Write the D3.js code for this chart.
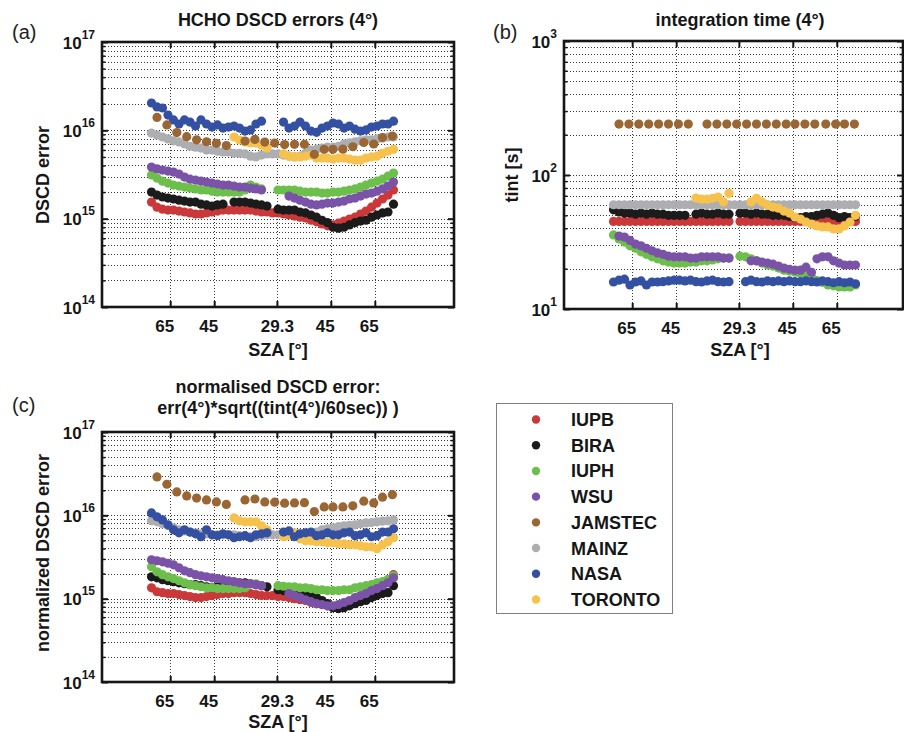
<!DOCTYPE html>
<html>
<head>
<meta charset="utf-8">
<script src="https://cdn.jsdelivr.net/npm/d3@7"></script>
<style>
  body { margin: 0; background: #fff; }
  text { font-family: 'Liberation Sans', Arial, Helvetica, sans-serif; }
</style>
</head>
<body>
<svg id="chart" width="904" height="732"></svg>
<script>
// ---------------- DATA ----------------
// measurement times (hours); the SZA axis is drawn at these times
const times = [7.25,7.5,7.75,8,8.25,8.5,8.75,9,9.25,9.5,9.75,10,10.25,10.5,10.75,11,11.25,11.5,11.75,12,12.25,12.5,12.75,13,13.25,13.5,13.75,14,14.25,14.5,14.75,15,15.25,15.5,15.75,16,16.25,16.5,16.75,17,17.25,17.5,17.75,18,18.25];
const jamTimes = [7.5,7.95,8.4,8.85,9.3,9.75,10.2,10.65,11.5,11.95,12.4,12.85,13.3,13.75,14.2,14.65,15.1,15.5,15.95,16.4,16.9,17.35,17.75,18.2];

const szaTickTimes = [8.1, 10.1, 12.95, 15.4, 17.4];
const szaTickLabels = ["65", "45", "29.3", "45", "65"];

const groups = ["IUPB", "BIRA", "IUPH", "WSU", "JAMSTEC", "MAINZ", "NASA", "TORONTO"];
const groupColors = ["#cb383a", "#1b1b1b", "#6dbf4b", "#7a53a8", "#9a6634", "#adaeb2", "#3350a2", "#f6c24d"];

// (a) HCHO DSCD errors (4°), units of 1e15 molec/cm2
const errIUPB = [1.54,1.35,1.28,1.25,1.25,1.22,1.19,1.16,1.13,1.13,1.16,1.19,1.22,1.25,1.25,1.25,1.25,1.25,1.25,1.22,1.19,1.19,1.16,1.16,1.13,1.1,1.07,1.04,1.02,0.96,0.92,0.87,0.83,0.85,0.89,0.94,0.99,1.04,1.13,1.22,1.35,1.5,1.67,1.85,2.11];
const errBIRA = [2.0,1.85,1.76,1.71,1.67,1.62,1.58,1.54,1.54,1.46,1.43,1.39,1.43,1.46,null,1.54,1.54,1.54,1.5,1.46,1.43,1.39,null,1.28,1.25,1.25,1.25,1.19,1.16,1.1,1.04,0.96,0.9,0.8,0.78,0.8,0.85,0.9,0.94,0.96,1.04,1.1,1.16,1.19,1.46];
const errIUPH = [3.12,2.88,2.66,2.53,2.4,2.34,2.28,2.22,2.17,2.11,2.11,2.05,2.0,2.0,2.0,2.0,2.0,2.11,2.4,2.28,2.17,null,null,2.11,2.11,2.11,2.11,2.05,2.0,2.0,2.0,1.95,1.95,2.0,2.0,2.05,2.11,2.17,2.28,2.4,2.53,2.66,2.8,3.03,3.28];
const errWSU = [3.84,3.66,3.55,3.46,3.37,3.2,2.96,2.8,2.74,2.66,2.6,2.53,2.47,2.4,2.4,2.34,2.28,2.28,2.22,2.17,2.11,null,null,null,null,1.8,1.71,1.62,1.54,1.46,1.43,1.46,1.5,1.5,1.54,1.58,1.67,1.71,1.8,1.9,1.95,2.05,2.17,2.34,2.6];
const errJAMSTEC = [14.0,11.5,9.44,8.47,7.8,7.43,7.12,6.73,7.55,7.9,7.37,7.17,6.9,6.95,6.95,5.35,6.1,6.1,6.12,6.52,7.28,7.0,8.28,8.6];
const errMAINZ = [9.3,8.85,8.4,8.0,7.6,7.4,7.0,6.6,6.45,6.3,5.98,5.98,5.8,5.7,5.7,5.5,5.5,5.4,5.1,5.0,5.25,5.4,5.4,5.4,5.25,5.1,5.0,5.1,5.5,5.98,6.1,6.3,6.45,6.45,6.6,7.0,7.2,7.4,7.6,7.8,7.8,8.0,8.2,8.4,8.4];
const errNASA = [20.4,18.4,17.9,14.9,13.1,11.8,13.1,12.4,11.2,13.1,11.8,10.9,11.5,10.6,10.9,11.2,10.6,9.8,10.1,11.8,12.7,null,null,null,12.4,10.6,11.2,12.4,11.2,9.8,9.5,10.6,11.2,12.1,11.8,10.6,11.2,10.3,9.8,10.1,10.9,11.2,11.8,11.8,12.7];
const errTORONTO = [null,null,null,null,null,null,null,null,null,null,null,null,null,null,null,8.4,7.77,7.4,7.2,7.2,6.8,6.3,null,null,5.4,5.1,5.0,5.0,5.1,5.25,4.85,4.85,4.85,4.73,4.85,4.85,4.73,4.6,4.6,4.85,5.0,5.1,5.5,5.8,6.1];

// (b) integration time (4°), seconds
const tintIUPB = [45,45,45,45,45,45,45,45,45,45,45,45,45,45,45,45,45,45,45,45,45,45,null,45,45,45,45,45,45,45,45,45,45,45,45,45,45,45,45,45,45,45,45,45,45];
const tintBIRA = [55,53,52,52,51,52,51,52,51,51,50,50,50,50,null,51,52,51,51,52,51,51,null,52,52,51,52,51,51,50,50,50,49,48,48,49,49,50,51,52,50,48,49,48,49];
const tintIUPH = [35.7,33.3,31.6,29.6,28.4,26.7,25.6,24.5,23.7,22.9,22.4,22,22,22,22.4,22.4,22.9,22.9,23.2,23.7,24,24,null,24.8,24.5,23.7,22.9,22,21.3,20.9,20.2,19.5,19.2,18.8,18.5,18.2,17.3,16.3,15.8,15.1,14.9,14.6,14.6,14.6,15.1];
const tintWSU = [null,35,34.4,32.5,30.5,29.6,28.4,27.2,26.2,25.6,24.8,24.5,24.5,24.5,24,24,24.5,24.5,24.5,24.5,24,24,null,null,null,22.9,22.9,22.4,22,21.6,20.9,20.2,19.8,19.5,19.5,20.5,18.8,23.7,24.5,24.5,22.9,22,21.3,21.3,21.3];
const tintJAMSTEC = [240,240,240,240,240,240,240,240,240,240,240,240,240,240,240,240,240,240,240,240,240,240,240,240];
const tintMAINZ = [60,60,60,60,60,60,60,60,60,60,60,60,60,60,60,60,60,60,60,60,60,60,60,60,60,60,60,60,60,60,60,60,60,60,60,60,60,60,60,60,60,60,60,60,60];
const tintNASA = [15.9,16.4,16.7,15.1,15.9,16.2,15.1,15.9,15.9,16,16.2,16.4,16.4,16.2,16.4,16,15.9,16.2,16.4,16,15.9,16,null,null,16,16.4,16,15.9,16.2,16,16.2,16,16.2,16,16,16.2,16,15.9,16.2,16,15.7,16,15.7,15.9,15.4];
const tintTORONTO = [null,null,null,null,null,null,null,null,null,null,null,null,null,null,null,67.3,66,66,67,68.5,63,73,null,null,null,63,67,63,59.5,57.6,56.6,53.8,52,48.5,46.9,44.6,43.1,41.7,41,41,39.6,39.6,41.7,44.6,50];

// (c) normalised DSCD error, units of 1e15 molec/cm2
const normIUPB = [1.35,1.21,1.18,1.15,1.15,1.12,1.09,1.06,1.03,1.03,1.06,1.09,1.12,1.15,1.15,1.18,1.18,1.18,1.15,1.12,1.09,1.09,1.09,1.06,1.06,1.03,1.0,0.97,0.95,0.9,0.87,0.85,0.82,0.8,0.8,0.85,0.9,0.95,1.03,1.12,1.21,1.35,1.51,1.69,1.94];
const normBIRA = [1.83,1.78,1.69,1.64,1.6,1.55,1.51,1.47,1.47,1.43,1.39,1.35,1.39,1.43,null,1.51,1.55,1.55,1.51,1.47,1.43,1.39,null,1.28,1.25,1.25,1.25,1.18,1.15,1.09,1.03,0.95,0.87,0.78,0.76,0.78,0.82,0.87,0.92,0.95,1.03,1.09,1.15,1.18,1.43];
const normIUPH = [2.42,2.1,1.94,1.83,1.74,1.64,1.55,1.47,1.43,1.39,1.35,1.35,1.32,1.32,1.32,1.32,1.32,1.35,1.51,1.51,1.43,null,null,1.43,1.41,1.39,1.39,1.35,1.35,1.32,1.28,1.28,1.25,1.25,1.25,1.28,1.28,1.35,1.39,1.43,1.47,1.55,1.6,1.69,1.88];
const normWSU = [2.93,2.85,2.77,2.66,2.55,2.35,2.16,2.05,1.94,1.88,1.83,1.78,1.74,1.69,1.64,1.6,1.55,1.51,1.51,1.47,1.43,null,null,null,null,1.15,1.09,1.03,0.97,0.92,0.87,0.85,0.82,0.82,0.85,0.9,0.95,1.03,1.09,1.15,1.25,1.32,1.43,1.55,1.78];
const normJAMSTEC = [28.9,23.6,19.1,17.1,16.1,15.3,14.5,13.5,15.3,15.7,14.5,14.4,14.0,14.1,14.2,11.1,12.6,12.6,12.6,13.0,14.8,14.1,16.5,17.7];
const normMAINZ = [8.6,8.36,7.9,7.5,7.1,6.7,6.5,6.3,6.17,6.0,6.0,5.84,5.84,5.84,5.84,5.84,5.7,5.7,5.53,5.53,5.7,5.84,5.84,5.84,5.84,5.84,5.7,5.84,6.0,6.17,6.3,6.7,6.9,7.1,7.3,7.5,7.6,7.7,7.9,8.1,8.2,8.36,8.5,8.6,8.8];
const normNASA = [10.7,9.6,8.8,7.7,6.7,6.17,6.7,6.3,6.0,5.53,6.7,5.84,5.7,6.0,5.84,5.38,5.53,5.7,5.38,5.84,6.0,6.17,null,null,6.3,6.5,5.53,6.0,6.17,6.3,5.7,5.84,6.17,5.84,5.84,6.17,6.3,5.7,5.84,6.17,5.53,5.7,6.3,6.3,6.9];
const normTORONTO = [null,null,null,null,null,null,null,null,null,null,null,null,null,null,null,9.3,8.6,8.36,8.36,8.36,7.5,6.7,null,null,5.53,5.7,6.17,5.23,4.95,4.95,4.82,4.82,4.69,4.69,4.56,4.56,4.43,4.43,4.31,4.19,4.19,3.97,4.43,4.82,5.38];

const decadesErr = [0.1, 1, 10, 100];     // 1e14 .. 1e17 in units of 1e15
const expErr = ["14", "15", "16", "17"];
const decadesTint = [10, 100, 1000];
const expTint = ["1", "2", "3"];

// ---------------- DRAWING ----------------
const svg = d3.select("#chart");
const INK = "#161616";
const drawOrder = [0, 1, 2, 3, 5, 7, 6, 4]; // IUPB, BIRA, IUPH, WSU, MAINZ, TORONTO, NASA, JAMSTEC

function seriesFor(vals) {
  return groups.map((name, i) => ({
    name, color: groupColors[i],
    t: name === "JAMSTEC" ? jamTimes : times,
    v: vals[i]
  }));
}

function drawPanel(p) {
  const g = svg.append("g");
  const [x0, x1] = p.x.range();
  const [yb, yt] = p.y.range();

  // minor values
  const minors = [];
  p.decades.slice(0, -1).forEach(m => { for (let k = 2; k <= 9; k++) minors.push(m * k); });

  // grid
  const grid = g.append("g").attr("stroke", "#3a3a3a").attr("stroke-width", 1).attr("stroke-dasharray", "1,2");
  grid.selectAll("line.h").data(p.decades.concat(minors)).join("line")
    .attr("x1", x0).attr("x2", x1)
    .attr("y1", d => Math.round(p.y(d)) + 0.5).attr("y2", d => Math.round(p.y(d)) + 0.5);
  grid.selectAll("line.v").data(szaTickTimes).join("line")
    .attr("y1", yt).attr("y2", yb)
    .attr("x1", d => Math.round(p.x(d)) + 0.5).attr("x2", d => Math.round(p.x(d)) + 0.5);

  // markers
  const S = seriesFor(p.values);
  drawOrder.forEach(i => {
    const s = S[i];
    const pts = s.t.map((t, j) => ({ t, v: s.v[j] })).filter(d => d.v != null);
    g.append("g").selectAll("circle").data(pts).join("circle")
      .attr("cx", d => p.x(d.t)).attr("cy", d => p.y(d.v))
      .attr("r", 4.6).attr("fill", s.color);
  });

  // axes (ticks inward)
  const axB = d3.axisBottom(p.x).tickValues(szaTickTimes).tickFormat((d, i) => szaTickLabels[i]).tickSize(-6).tickPadding(13);
  const gb = g.append("g").attr("transform", `translate(0,${yb})`).call(axB);
  gb.select(".domain").remove();
  gb.selectAll("line").attr("stroke", INK).attr("stroke-width", 2);
  gb.selectAll("text").attr("font-size", 17).attr("font-weight", "bold").attr("fill", INK)
    .attr("dx", (d, i) => szaTickLabels[i].length < 4 ? -6 : 0);
  const gtop = g.append("g").attr("transform", `translate(0,${yt})`)
    .call(d3.axisTop(p.x).tickValues(szaTickTimes).tickFormat("").tickSize(-6));
  gtop.select(".domain").remove();
  gtop.selectAll("line").attr("stroke", INK).attr("stroke-width", 2);

  [[d3.axisLeft, x0], [d3.axisRight, x1]].forEach(([ax, xx]) => {
    const gM = g.append("g").attr("transform", `translate(${xx},0)`)
      .call(ax(p.y).tickValues(p.decades).tickFormat("").tickSize(-6));
    gM.select(".domain").remove();
    gM.selectAll("line").attr("stroke", INK).attr("stroke-width", 2);
    const gm = g.append("g").attr("transform", `translate(${xx},0)`)
      .call(ax(p.y).tickValues(minors).tickFormat("").tickSize(-3.5));
    gm.select(".domain").remove();
    gm.selectAll("line").attr("stroke", INK).attr("stroke-width", 1.5);
  });

  // y tick labels 10^n
  const lab = g.append("g").selectAll("text").data(p.decades).join("text")
    .attr("x", x0 - 7).attr("y", d => p.y(d) + 6.5)
    .attr("text-anchor", "end").attr("font-weight", "bold").attr("fill", INK);
  lab.append("tspan").attr("font-size", 17).text("10");
  lab.append("tspan").attr("font-size", 12).attr("dy", -10).text((d, i) => p.exps[i]);

  // box
  g.append("rect").attr("x", x0).attr("y", yt).attr("width", x1 - x0).attr("height", yb - yt)
    .attr("fill", "none").attr("stroke", INK).attr("stroke-width", 2.6);

  // titles and labels
  const cx = x0 + 176;
  p.title.forEach((line, i) => {
    g.append("text").attr("x", cx).attr("y", p.titleY[i]).attr("text-anchor", "middle")
      .attr("font-size", 18).attr("font-weight", "bold").attr("fill", INK).text(line);
  });
  g.append("text").attr("x", cx).attr("y", p.xlabY).attr("text-anchor", "middle")
    .attr("font-size", 18).attr("font-weight", "bold").attr("fill", INK).text("SZA [°]");
  g.append("text").attr("transform", `translate(${p.ylabX},${p.ylabY}) rotate(-90)`)
    .attr("text-anchor", "middle").attr("font-size", 18).attr("font-weight", "bold").attr("fill", INK).text(p.ylabel);
  g.append("text").attr("x", p.letterX).attr("y", p.letterY)
    .attr("font-size", 20).attr("fill", "#222").text(p.letter);
}

drawPanel({
  x: d3.scaleLinear().domain([5, 21]).range([102, 454]),
  y: d3.scaleLog().domain([0.1, 100]).range([307, 42]),
  decades: decadesErr, exps: expErr,
  values: [errIUPB, errBIRA, errIUPH, errWSU, errJAMSTEC, errMAINZ, errNASA, errTORONTO],
  title: ["HCHO DSCD errors (4°)"], titleY: [26],
  xlabY: 356, ylabel: "DSCD error", ylabX: 49, ylabY: 175,
  letter: "(a)", letterX: 12, letterY: 39
});

drawPanel({
  x: d3.scaleLinear().domain([5, 20.41]).range([564, 903]),
  y: d3.scaleLog().domain([10, 1000]).range([309, 41]),
  decades: decadesTint, exps: expTint,
  values: [tintIUPB, tintBIRA, tintIUPH, tintWSU, tintJAMSTEC, tintMAINZ, tintNASA, tintTORONTO],
  title: ["integration time (4°)"], titleY: [26],
  xlabY: 356, ylabel: "tint [s]", ylabX: 518, ylabY: 175,
  letter: "(b)", letterX: 493, letterY: 39
});

drawPanel({
  x: d3.scaleLinear().domain([5, 21]).range([102, 454]),
  y: d3.scaleLog().domain([0.1, 100]).range([682, 432]),
  decades: decadesErr, exps: expErr,
  values: [normIUPB, normBIRA, normIUPH, normWSU, normJAMSTEC, normMAINZ, normNASA, normTORONTO],
  title: ["normalised DSCD error:", "err(4°)*sqrt((tint(4°)/60sec)) )"], titleY: [393, 414],
  xlabY: 728, ylabel: "normalized DSCD error", ylabX: 49, ylabY: 553,
  letter: "(c)", letterX: 12, letterY: 412
});

// legend
const leg = svg.append("g");
leg.append("rect").attr("x", 496.5).attr("y", 403.5).attr("width", 176).attr("height", 210)
  .attr("fill", "#fff").attr("stroke", "#808080").attr("stroke-width", 1);
const ly = d3.scalePoint().domain(groups).range([419.5, 599.5]);
const items = leg.selectAll("g.item").data(groups).join("g");
items.append("circle").attr("cx", 536).attr("cy", d => ly(d)).attr("r", 4.2)
  .attr("fill", (d, i) => groupColors[i]);
items.append("text").attr("x", 571).attr("y", d => ly(d) + 6.5)
  .attr("font-size", 18).attr("font-weight", "bold").attr("fill", INK).text(d => d);
</script>
</body>
</html>
